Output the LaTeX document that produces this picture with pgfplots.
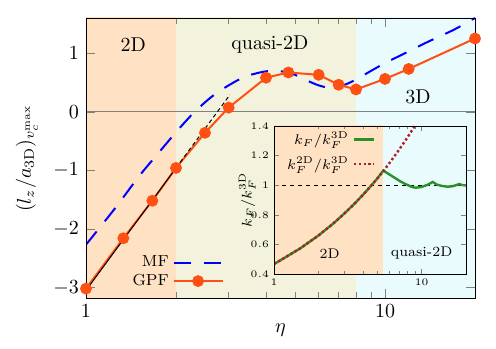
\documentclass[border=0pt]{standalone}
\usepackage{pgfplots}
\pgfplotsset{compat=1.18}
\definecolor{bgA}{RGB}{255,226,196}
\definecolor{bgB}{RGB}{243,243,221}
\definecolor{bgC}{RGB}{233,251,253}
\definecolor{gpf}{RGB}{255,80,20}
\definecolor{mfb}{RGB}{0,0,255}
\definecolor{kgreen}{RGB}{40,145,40}
\definecolor{kred}{RGB}{175,30,40}
\begin{document}
\begin{tikzpicture}
\useasboundingbox (-43pt,-25pt) rectangle (205pt,149pt);
\begin{axis}[
 at={(0pt,0pt)}, anchor=south west,
 scale only axis, width=194.5pt, height=140pt,
 xmode=log, xmin=1, xmax=20, ymin=-3.18, ymax=1.6,
 xtick={1,10}, xticklabels={$1$,$10$},
 minor xtick={2,3,4,5,6,7,8,9,20},
 ytick={-3,-2,-1,0,1},
 tick align=inside,
 axis on top,
 xlabel={$\eta$},
 ylabel={$(l_z/a_{3\mathrm{D}})_{v_c^{\max}}$},
 xlabel style={at={(axis description cs:0.5,-0.114)}, anchor=center},
 ylabel style={at={(axis description cs:-0.152,0.5)}, anchor=center},
 legend style={at={(axis description cs:0.37,0.005)}, anchor=south east, draw=none, fill=none, font=\footnotesize, row sep=-2pt},
 legend cell align=right,
 legend plot pos=right,
 legend image code/.code={\draw[mark repeat=2,mark phase=2] plot coordinates {(0cm,0cm) (0.43cm,0cm) (0.86cm,0cm)};},
]
\addplot[draw=none, fill=bgA, forget plot] coordinates {(1,-4) (2,-4) (2,2) (1,2)} -- cycle;
\addplot[draw=none, fill=bgB, forget plot] coordinates {(2,-4) (8,-4) (8,2) (2,2)} -- cycle;
\addplot[draw=none, fill=bgC, forget plot] coordinates {(8,-4) (20,-4) (20,2) (8,2)} -- cycle;
\addplot[gray, line width=0.5pt, forget plot] coordinates {(1,0) (20,0)};
\addplot[mfb, line width=1pt, dash pattern=on 8.5pt off 6.5pt, smooth] coordinates {
(1,-2.27) (1.25,-1.65) (1.5,-1.11) (1.75,-0.70) (2,-0.35) (2.25,-0.06) (2.5,0.16) (2.75,0.33) (3,0.45) (3.25,0.55) (3.5,0.62) (4,0.69) (4.5,0.69) (5,0.63) (5.5,0.53) (6,0.45) (6.5,0.41) (7,0.43) (7.5,0.48) (8,0.55) (9,0.70) (10,0.83) (12,1.03) (14,1.20) (17,1.40) (20,1.60)};
\addlegendentry{MF}
\addplot[gpf, line width=1pt, mark=*, mark size=2.45pt, mark options={solid, fill=gpf}] coordinates {
(1,-3.02) (1.333,-2.16) (1.667,-1.52) (2,-0.96) (2.5,-0.36) (3,0.07) (4,0.58) (4.75,0.67) (6,0.63) (7,0.46) (8,0.38) (10,0.56) (12,0.73) (20,1.25)};
\addlegendentry{GPF}
\addplot[black, line width=0.5pt, forget plot] coordinates {(1,-3.05) (2,-0.961)};
\addplot[black, line width=0.5pt, dash pattern=on 2pt off 1.5pt, forget plot] coordinates {(2,-0.961) (3.03,0.29)};
\node at (axis cs:1.44,1.15) {2D};
\node at (axis cs:4.12,1.15) {quasi-2D};
\node at (axis cs:12.9,0.26) {3D};
\end{axis}
\begin{axis}[
 at={(94pt,12pt)}, anchor=south west,
 scale only axis, width=96pt, height=74pt,
 xmode=log, xmin=1, xmax=20, ymin=0.4, ymax=1.4,
 xtick={1,10}, xticklabels={$1$,$10$},
 minor xtick={2,3,4,5,6,7,8,9,20},
 ytick={0.4,0.6,0.8,1,1.2,1.4}, yticklabels={$0.4$,$0.6$,$0.8$,$1$,$1.2$,$1.4$},
 tick align=inside,
 major tick length=2.5pt, minor tick length=1.5pt,
 axis on top,
 ticklabel style={font=\fontsize{5.5}{6}\selectfont},
 xticklabel style={yshift=1pt},
 yticklabel style={xshift=1pt},
 ylabel={$k_F/k_F^{3\mathrm{D}}$},
 ylabel style={at={(axis description cs:-0.14,0.5)}, anchor=center, font=\scriptsize},
 legend style={at={(axis description cs:0.56,1.02)}, anchor=north east, draw=none, fill=none, font=\scriptsize, row sep=0.5pt},
 legend cell align=right,
 legend plot pos=right,
 legend image code/.code={\draw plot coordinates {(0cm,0cm) (0.35cm,0cm)};},
]
\addplot[draw=none, fill=bgA, forget plot] coordinates {(1,0) (5.5,0) (5.5,2) (1,2)} -- cycle;
\addplot[draw=none, fill=bgC, forget plot] coordinates {(5.5,0) (20,0) (20,2) (5.5,2)} -- cycle;
\addplot[black, line width=0.4pt, dash pattern=on 2pt off 2pt, forget plot] coordinates {(1,1) (20,1)};
\addplot[kgreen, line width=1.2pt] coordinates {
(1,0.467) (1.5,0.572) (2,0.660) (2.5,0.738) (3,0.809) (3.5,0.874) (4,0.934) (4.5,0.991) (5,1.044) (5.5,1.098)
(6,1.075) (6.65,1.047) (7.2,1.025) (7.77,1.008) (8.6,0.988) (9.1,0.983) (10,0.988) (11,1.003) (11.9,1.022) (12.7,1.004) (13.7,0.995) (15,0.99) (16,0.992) (17,0.999) (18,1.008) (19,1.0) (20,0.998)};
\addlegendentry{$k_F/k_F^{3\mathrm{D}}$}
\addplot[kred, line width=1.2pt, dash pattern=on 1.2pt off 1.2pt] coordinates {
(1,0.467) (1.5,0.572) (2,0.660) (2.5,0.738) (3,0.809) (3.5,0.874) (4,0.934) (4.5,0.991) (5,1.044) (5.5,1.095) (6,1.144) (7,1.236) (8,1.321) (9,1.401) (9.5,1.44)};
\addlegendentry{$k_F^{2\mathrm{D}}/k_F^{3\mathrm{D}}$}
\node[font=\scriptsize] at (axis cs:2.38,0.54) {2D};
\node[font=\scriptsize] at (axis cs:10,0.54) {quasi-2D};
\end{axis}
\end{tikzpicture}
\end{document}
